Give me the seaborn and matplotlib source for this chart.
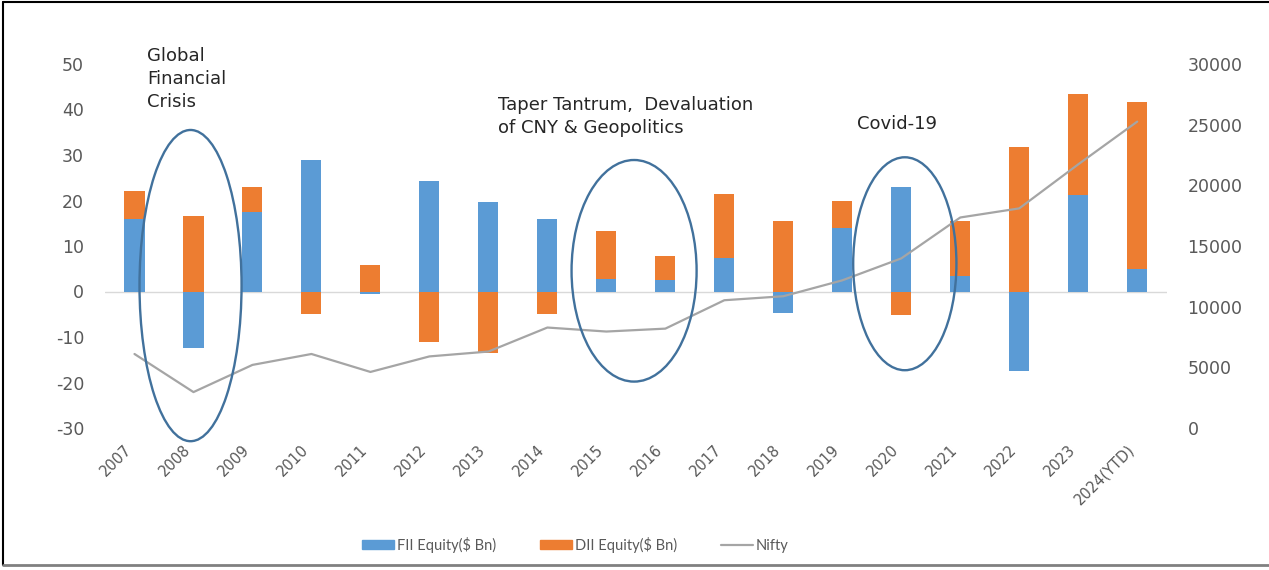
import numpy as np
import pandas as pd
import matplotlib
matplotlib.use("Agg")
import matplotlib.pyplot as plt
import matplotlib.transforms as mtransforms
from matplotlib.patches import Ellipse, Patch
from matplotlib.lines import Line2D
import seaborn as sns

years = ["2007", "2008", "2009", "2010", "2011", "2012", "2013", "2014", "2015",
         "2016", "2017", "2018", "2019", "2020", "2021", "2022", "2023", "2024(YTD)"]
fii_equity = [16.0, -12.5, 17.5, 29.0, -0.5, 24.3, 19.7, 15.9, 2.7,
              2.5, 7.3, -4.8, 13.9, 23.0, 3.5, -17.4, 21.2, 4.9]
dii_equity = [6.0, 16.7, 5.5, -5.0, 5.9, -11.2, -13.6, -5.0, 10.5,
              5.3, 14.1, 15.5, 6.1, -5.2, 12.0, 31.8, 22.2, 36.7]
nifty = [6100, 2960, 5200, 6100, 4620, 5900, 6300, 8280, 7950,
         8190, 10530, 10860, 12170, 13980, 17350, 18100, 21730, 25250]

BLUE = "#5B9BD5"
ORANGE = "#ED7D31"
GREY_LINE = "#A5A5A5"
OUTLINE = "#41719C"
TICK_GREY = "#595959"

sns.set_theme(style="white")
plt.rcParams["font.family"] = ["DejaVu Sans"]
plt.rcParams["axes.unicode_minus"] = False

df = pd.DataFrame({"year": years, "fii": fii_equity, "dii": dii_equity, "nifty": nifty})

fig = plt.figure(figsize=(12.69, 5.70), dpi=100)
ax = fig.add_axes([105 / 1269, 1 - 428 / 570, (1166.7 - 105) / 1269, (428 - 64) / 570])

bar_w = 0.34
sns.barplot(data=df, x="year", y="fii", color=BLUE, width=bar_w, saturation=1,
            ax=ax, zorder=2, linewidth=0, edgecolor="none")

# DII stacks on FII when both share a sign, otherwise starts from zero
fii_arr = np.array(fii_equity)
dii_arr = np.array(dii_equity)
dii_base = np.where(np.sign(fii_arr) == np.sign(dii_arr), fii_arr, 0.0)
ax.bar(np.arange(len(years)), dii_arr, bottom=dii_base, width=bar_w,
       color=ORANGE, zorder=2, linewidth=0, edgecolor="none")

ax.axhline(0, color="#D9D9D9", lw=1.0, zorder=1)
ax.set_xlim(-0.5, len(years) - 0.5)
ax.set_ylim(-30, 50)
ax.set_yticks(np.arange(-30, 51, 10))
ax.set_xlabel("")
ax.set_ylabel("")
for s in ax.spines.values():
    s.set_visible(False)
ax.tick_params(axis="y", length=0, pad=15, labelsize=12.5, labelcolor=TICK_GREY)
ax.tick_params(axis="x", length=0, pad=14, labelsize=10.5, labelcolor=TICK_GREY)
shift = mtransforms.ScaledTranslation(-5 / 100, 0, fig.dpi_scale_trans)
for lab in ax.get_xticklabels():
    lab.set_rotation(45)
    lab.set_ha("right")
    lab.set_va("center")
    lab.set_rotation_mode("anchor")
    lab.set_transform(lab.get_transform() + shift)

ax2 = ax.twinx()
sns.lineplot(x=np.arange(len(years)), y=nifty, ax=ax2, color=GREY_LINE, lw=1.6)
ax2.set_ylim(0, 30000)
ax2.set_yticks(np.arange(0, 30001, 5000))
ax2.set_xlim(-0.5, len(years) - 0.5)
for s in ax2.spines.values():
    s.set_visible(False)
ax2.tick_params(axis="y", length=0, pad=15, labelsize=12.5, labelcolor=TICK_GREY)
ax2.set_ylabel("")

# highlighted periods
for cx, cy, w, h in [(0.95, 1.3, 1.73, 68.4), (8.47, 4.55, 2.12, 48.7), (13.06, 6.1, 1.75, 46.8)]:
    e = Ellipse((cx, cy), w, h, transform=ax.transData, fill=False,
                edgecolor=OUTLINE, lw=1.7, clip_on=False, zorder=5)
    ax2.add_patch(e)

txt_kw = dict(transform=ax.transData, va="top", ha="left", fontsize=13,
              color="#262626", linespacing=1.37, clip_on=False)
ax2.text(0.22, 53.8, "Global\nFinancial\nCrisis", **txt_kw)
ax2.text(6.17, 43.0, "Taper Tantrum,  Devaluation\nof CNY & Geopolitics", **txt_kw)
ax2.text(12.25, 38.8, "Covid-19", **txt_kw)

handles = [Patch(color=BLUE, label="FII Equity($ Bn)"),
           Patch(color=ORANGE, label="DII Equity($ Bn)"),
           Line2D([0], [0], color=GREY_LINE, lw=1.6, label="Nifty")]
fig.legend(handles=handles, loc="center", bbox_to_anchor=(575 / 1269, 1 - 545 / 570),
           ncol=3, frameon=False, prop={"family": "Lato", "size": 10.5}, labelcolor=TICK_GREY,
           handlelength=2.2, handleheight=0.6, columnspacing=3.0, handletextpad=0.2)

# outer frame
fig.add_artist(Line2D([3 / 1269, 3 / 1269], [0.008, 0.996], transform=fig.transFigure,
                      color="black", lw=1.5))
fig.add_artist(Line2D([3 / 1269, 1.0], [0.996, 0.996], transform=fig.transFigure,
                      color="black", lw=1.5))
fig.add_artist(Line2D([3 / 1269, 1.0], [1 - 565 / 570, 1 - 565 / 570], transform=fig.transFigure,
                      color="#808080", lw=2.0))

fig.savefig("out.png", dpi=100)
